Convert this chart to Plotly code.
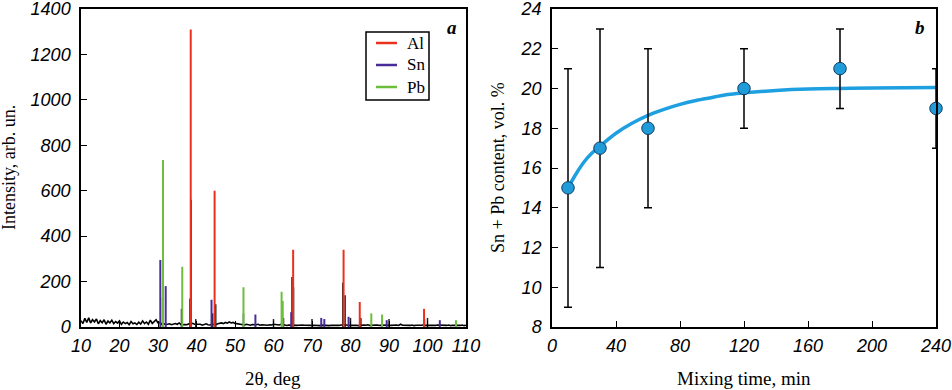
import numpy as np
import plotly.graph_objects as go

# ---------------- Panel a: XRD pattern ----------------
# measured background (0.5 deg step from 10 to 110 deg)
bg_10_20 = [28, 15, 38, 20, 40, 18, 32, 22, 35, 14, 28, 19, 32, 12, 26, 18, 30, 15, 24, 17, 27]
bg_20_30 = [12, 22, 15, 20, 10, 24, 14, 18, 11, 21, 13, 27, 15, 22, 12, 30, 16, 24, 32, 18]
bg_30_40 = [20, 12, 15, 10, 12, 14, 10, 11, 15, 12, 18, 10, 12, 11, 10, 14, 12, 16, 12, 12]
bg_40_50 = [10, 12, 8, 11, 14, 10, 9, 12, 11, 10, 14, 16, 18, 15, 20, 17, 22, 18, 20, 16]
bg_50_60 = [14, 12, 10, 11, 9, 12, 10, 8, 11, 9, 10, 12, 8, 10, 9, 11, 8, 10, 9, 12]
bg_60_70 = [10, 8, 9, 12, 10, 8, 7, 9, 8, 10, 9, 7, 8, 10, 9, 8, 7, 9, 8, 7]
bg_70_80 = [8, 7, 9, 6, 8, 7, 9, 8, 6, 8, 7, 9, 8, 7, 9, 10, 8, 9, 7, 8]
bg_80_90 = [7, 9, 8, 6, 8, 7, 9, 8, 10, 7, 8, 6, 8, 9, 7, 8, 6, 7, 8, 9]
bg_90_100 = [7, 8, 6, 9, 7, 12, 8, 7, 6, 8, 7, 9, 6, 8, 7, 9, 8, 10, 7, 8]
bg_100_110 = [7, 8, 6, 7, 9, 8, 7, 6, 8, 7, 9, 6, 8, 7, 6, 8, 7, 9, 6, 8]
background = (bg_10_20 + bg_20_30 + bg_30_40 + bg_40_50 + bg_50_60 + bg_60_70
              + bg_70_80 + bg_80_90 + bg_90_100 + bg_100_110)
bg_two_theta = list(np.arange(10, 110.001, 0.5))

# measured (black) peaks
exp_pos = [31.2, 36.1, 38.3, 38.6, 39.8, 44.2, 45.0, 52.2, 60.0, 62.6, 64.8, 65.2,
           70.0, 78.0, 78.6, 80.0, 82.7, 90.0, 99.2, 100.0]
exp_int = [130, 80, 125, 560, 35, 60, 100, 60, 35, 40, 220, 175,
           35, 195, 140, 40, 40, 35, 35, 40]

# reference stick patterns
phases = ["Al", "Sn", "Pb"]
al_pos = [38.5, 44.7, 65.1, 78.2, 82.4, 99.1]
al_int = [1310, 600, 340, 340, 110, 80]
sn_pos = [30.6, 32.0, 43.9, 55.3, 64.6, 72.4, 73.2, 79.5, 89.4, 103.2]
sn_int = [295, 180, 120, 55, 65, 40, 35, 45, 30, 30]
pb_pos = [31.3, 36.3, 52.2, 62.1, 62.4, 85.4, 88.2, 107.4]
pb_int = [735, 265, 175, 155, 115, 60, 55, 30]

# ---------------- Panel b: Sn+Pb content ----------------
mix_time = [10, 30, 60, 120, 180, 240]
content = [15, 17, 18, 20, 21, 19]
content_err = [6, 6, 4, 2, 2, 2]
fit_time = [10, 15, 20, 25, 30, 40, 50, 60, 70, 80, 90, 100, 110, 120, 140, 160, 180, 200, 240]
fit_val = [15.0, 15.7, 16.3, 16.75, 17.1, 17.75, 18.25, 18.65, 18.95, 19.2, 19.4, 19.55,
           19.7, 19.78, 19.9, 19.97, 20.0, 20.02, 20.05]

COLORS = {"Al": "#E8321E", "Sn": "#4A2C98", "Pb": "#6CBE3C"}


def sticks(pos, inten):
    xs, ys = [], []
    for p, h in zip(pos, inten):
        xs += [p, p, None]
        ys += [0, h, None]
    return xs, ys


fig = go.Figure()

fig.add_trace(go.Scatter(x=bg_two_theta, y=background, mode="lines",
                         line=dict(color="black", width=1.6), showlegend=False,
                         xaxis="x", yaxis="y"))
ex, ey = sticks(exp_pos, exp_int)
fig.add_trace(go.Scatter(x=ex, y=ey, mode="lines", line=dict(color="#222", width=1.5),
                         showlegend=False, xaxis="x", yaxis="y"))
for name, pos, inten in [("Al", al_pos, al_int), ("Sn", sn_pos, sn_int), ("Pb", pb_pos, pb_int)]:
    sx, sy = sticks(pos, inten)
    fig.add_trace(go.Scatter(x=sx, y=sy, mode="lines", name=name, showlegend=False,
                             line=dict(color=COLORS[name], width=2), xaxis="x", yaxis="y"))

fig.add_trace(go.Scatter(x=fit_time, y=fit_val, mode="lines", line_shape="spline",
                         line=dict(color="#1EA0E0", width=3.5), showlegend=False,
                         xaxis="x2", yaxis="y2"))
fig.add_trace(go.Scatter(x=mix_time, y=content, mode="markers", showlegend=False,
                         marker=dict(size=12.5, color="#1F9BDA",
                                     line=dict(color="#123a5c", width=1)),
                         error_y=dict(type="data", array=content_err, color="black",
                                      thickness=1.5, width=4),
                         cliponaxis=False, xaxis="x2", yaxis="y2"))

W, H = 952, 390
tickfont = dict(family="Liberation Sans, Arial", size=18, color="black", style="italic")
ax_common = dict(showline=True, linecolor="black", linewidth=1.5, mirror=True,
                 ticks="inside", ticklen=6, tickwidth=1.2, tickcolor="black",
                 showgrid=False, zeroline=False, tickfont=tickfont, automargin=False,
                 ticklabeloverflow="allow")
ydom = [63 / H, 381 / H]

fig.update_layout(
    template="none",
    width=W, height=H, margin=dict(l=0, r=0, t=0, b=0, autoexpand=False),
    paper_bgcolor="white", plot_bgcolor="white", showlegend=False,
    xaxis=dict(domain=[81 / W, 466 / W], range=[10, 110], tickvals=list(range(10, 111, 10)),
               anchor="y", ticklabelstandoff=2, **ax_common),
    yaxis=dict(domain=ydom, range=[0, 1400], tickvals=list(range(0, 1401, 200)),
               anchor="x", ticklabelstandoff=5, **ax_common),
    xaxis2=dict(domain=[552 / W, 936 / W], range=[0, 240], tickvals=list(range(0, 241, 40)),
                anchor="y2", ticklabelstandoff=2, **ax_common),
    yaxis2=dict(domain=ydom, range=[8, 24], tickvals=list(range(8, 25, 2)),
                anchor="x2", ticklabelstandoff=5, **ax_common),
)

serif = "Liberation Serif, Times New Roman"
annots = [
    dict(text="Intensity, arb. un.", x=9 / W, y=1 - 168 / H, textangle=-90, size=18),
    dict(text="2θ, deg", x=273 / W, y=1 - 378 / H, textangle=0, size=19),
    dict(text="Sn + Pb content, vol. %", x=498 / W, y=1 - 168 / H, textangle=-90, size=18),
    dict(text="Mixing time, min", x=744 / W, y=1 - 378 / H, textangle=0, size=19),
]
for a in annots:
    sz = a.pop("size")
    fig.add_annotation(xref="paper", yref="paper", showarrow=False,
                       font=dict(family=serif, size=sz, color="black"),
                       xanchor="center", yanchor="middle", **a)
for lbl, xp in [("a", 452), ("b", 920)]:
    fig.add_annotation(xref="paper", yref="paper", x=xp / W, y=1 - 28 / H, showarrow=False,
                       text=f"<b><i>{lbl}</i></b>", xanchor="center", yanchor="middle",
                       font=dict(family=serif, size=19, color="black"))

# legend box (panel a)
fig.add_shape(type="rect", xref="paper", yref="paper", x0=366 / W, x1=429 / W,
              y0=1 - 100 / H, y1=1 - 32 / H, line=dict(color="black", width=1.5),
              fillcolor="white", layer="above")
for i, name in enumerate(phases):
    yy = 1 - (43 + 22 * i) / H
    fig.add_shape(type="line", xref="paper", yref="paper", x0=376 / W, x1=397 / W,
                  y0=yy, y1=yy, line=dict(color=COLORS[name], width=2.5), layer="above")
    fig.add_annotation(xref="paper", yref="paper", x=405 / W, y=yy, text=name,
                       showarrow=False, xanchor="left", yanchor="middle",
                       font=dict(family=serif, size=17, color="black"))

fig.write_html("out.html")
